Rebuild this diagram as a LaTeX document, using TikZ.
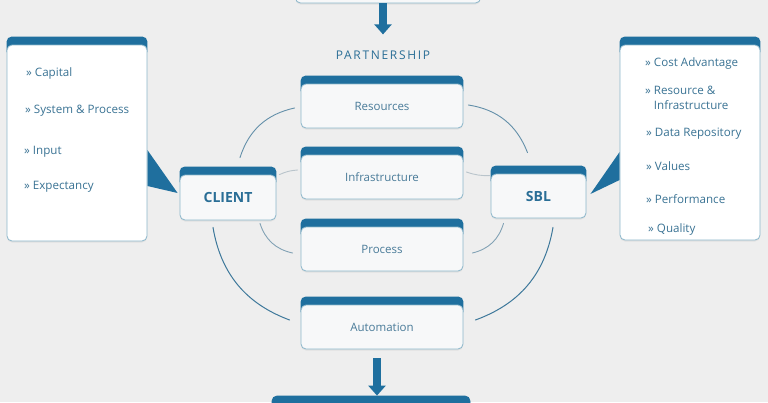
\documentclass[tikz,border=0pt]{standalone}
\usepackage{fontspec}
\setmainfont{Open Sans}
\usetikzlibrary{arrows.meta,backgrounds,shadows}
\definecolor{bgray}{HTML}{EEEEEE}
\definecolor{band}{RGB}{31,111,158}
\definecolor{edge}{RGB}{140,183,203}
\definecolor{boxfill}{RGB}{247,248,249}
\definecolor{boxtext}{RGB}{72,122,152}
\definecolor{itemtext}{RGB}{58,115,148}
\definecolor{headtext}{RGB}{42,110,150}
\definecolor{arcblue}{RGB}{62,120,155}
\definecolor{arcgray}{RGB}{185,196,203}

\begin{document}
\begin{tikzpicture}[x=1pt, y=-1pt, line join=round, line cap=round,
	tab/.style={draw=edge, line width=0.8pt, fill=boxfill, rounded corners=5pt,
		text=boxtext, font=\fontsize{11.5}{13}\selectfont, inner sep=0pt,
		drop shadow={opacity=0.12, shadow xshift=0pt, shadow yshift=-1.5pt}},
	mid/.style={tab, minimum width=162pt, minimum height=44pt},
	side/.style={tab, minimum width=96pt, minimum height=45pt,
		text=headtext, font=\fontsize{14}{16}\selectfont\bfseries},
	panel/.style={tab, fill=white, minimum width=140pt, minimum height=196pt},
	item/.style={text=itemtext, font=\fontsize{11.6}{14.5}\selectfont, anchor=west,
		inner sep=0pt, align=left},
	bigarrow/.style={draw=band, line width=8pt, line cap=butt,
		-{Triangle[length=10pt,width=17pt]}},
	arcline/.style={draw=arcblue, line width=1pt},
	softline/.style={draw=arcgray, line width=0.9pt}]
	\useasboundingbox (0,0) rectangle (768,402);
	\clip (0,0) rectangle (768,402);
	% boxes of the partnership
	\node[mid] (res) at (382,106) {Resources};
	\node[mid] (inf) at (382,177) {Infrastructure};
	\node[mid] (pro) at (382,249) {Process};
	\node[mid] (aut) at (382,327) {Automation};
	\node[side] (cli) at (228,197.5) {CLIENT};
	\node[side, minimum width=95pt, minimum height=44pt] (sbl) at (538.5,196) {SBL};
	\node[text=headtext, inner sep=0pt, font=\fontsize{12}{13}\selectfont\addfontfeatures{LetterSpace=14}]
		(pship) at (383,55) {PARTNERSHIP};
	% boxes cut by the border
	\node[tab, minimum width=185pt, minimum height=46pt] (topbox) at (388,-20) {};
	\node[tab, draw=band, fill=band, minimum width=198pt, minimum height=48pt] (botbox) at (371,420) {};
	% side panels
	\node[panel] (lp) at (77,143) {};
	\node[panel, minimum height=195pt] (rp) at (690,142.5) {};
	\node[item] (capital) at (26,73) {» Capital};
	\node[item] (system) at (25,111) {» System \& Process};
	\node[item] (input) at (24,152) {» Input};
	\node[item] (expect) at (24,187) {» Expectancy};
	\node[item] (cost) at (645,63) {» Cost Advantage};
	\node[item] (resinf) at (645,98) {» Resource \&\\\phantom{» }Infrastructure};
	\node[item] (data) at (646,134) {» Data Repository};
	\node[item] (values) at (646,166) {» Values};
	\node[item] (perf) at (646,199) {» Performance};
	\node[item] (quality) at (648,229) {» Quality};
	% blue bands and callouts
	\begin{scope}[on background layer]
		\fill[bgray] (0,0) rectangle (768,402);
		\foreach \n in {res,inf,pro,aut,cli,sbl,lp,rp}
			\fill[band, rounded corners=5pt] ([yshift=8pt]\n.north west) rectangle ([yshift=-12pt]\n.north east);
		\fill[band] ([yshift=-7pt]lp.east) -- ([yshift=-43pt]lp.east) -- ([xshift=-2pt,yshift=4.5pt]cli.west) -- cycle;
		\fill[band] ([yshift=-9.5pt]rp.west) -- ([yshift=-37.5pt]rp.west) -- ([xshift=4pt,yshift=2pt]sbl.east) -- cycle;
	\end{scope}
	% arrows
	\draw[bigarrow, shorten >=16pt] (topbox.south -| pship) -- (pship);
	\draw[bigarrow, shorten <=9pt] ([xshift=-5pt]aut.south) -- ([xshift=-5pt]aut.south |- botbox.north);
	% arcs round the partnership
	\draw[softline, draw=arcblue!70!arcgray] ([xshift=12pt,yshift=17pt]cli.north) to[bend left=30] ([xshift=-6pt,yshift=-2pt]res.west);
	\draw[softline] ([xshift=3pt]cli.north east) to[bend left=10] ([xshift=-3pt,yshift=7pt]inf.west);
	\draw[softline, draw=arcblue!45!arcgray] ([xshift=32pt,yshift=-3pt]cli.south) to[bend right=30] ([xshift=-8pt,yshift=-4pt]pro.west);
	\draw[arcline] ([xshift=-15pt,yshift=-7pt]cli.south) to[bend right=30] ([xshift=-11pt,yshift=7pt]aut.west);
	\draw[softline, draw=arcblue!70!arcgray] ([xshift=5pt,yshift=1pt]res.east) to[bend left=30] ([xshift=-11pt,yshift=21pt]sbl.north);
	\draw[softline] ([xshift=3pt,yshift=5pt]inf.east) to[bend right=10] ([xshift=-1pt,yshift=-2pt]sbl.north west);
	\draw[softline, draw=arcblue!45!arcgray] ([xshift=-35pt,yshift=-5pt]sbl.south) to[bend left=30] ([xshift=9pt,yshift=-4pt]pro.east);
	\draw[arcline] ([xshift=14.5pt,yshift=-9pt]sbl.south) to[bend left=30] ([xshift=12pt,yshift=7pt]aut.east);
\end{tikzpicture}
\end{document}
